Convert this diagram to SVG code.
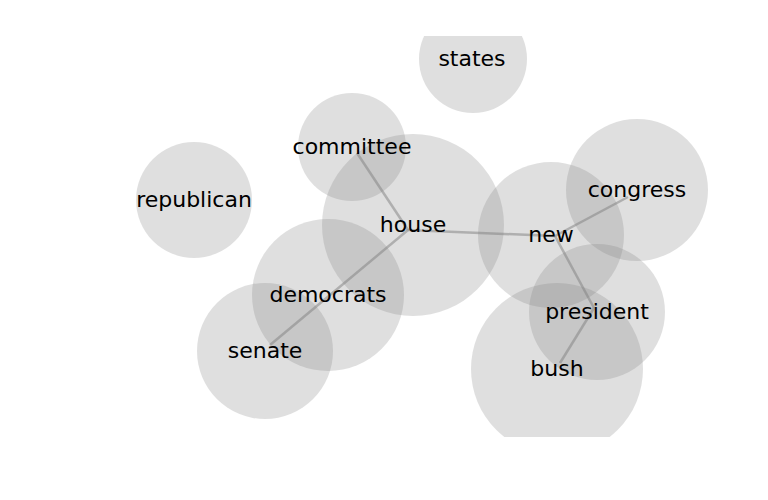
<svg xmlns="http://www.w3.org/2000/svg" width="768" height="500" viewBox="0 0 768 500">
<style>
.c{fill:#808080;fill-opacity:0.25}
.e{stroke:#808080;stroke-opacity:0.5;stroke-width:2.5;fill:none}
.t{font-family:"DejaVu Sans",sans-serif;font-size:22px;fill:#000;text-anchor:middle}
</style>
<defs>
<clipPath id="ax"><rect x="0" y="36" width="768" height="401"/></clipPath>
</defs>
<rect width="768" height="500" fill="#fff"/>
<g id="circles" clip-path="url(#ax)">
<circle class="c" cx="473" cy="59" r="54"/>
<circle class="c" cx="352" cy="147" r="54"/>
<circle class="c" cx="194" cy="200" r="58"/>
<circle class="c" cx="413" cy="225" r="91"/>
<circle class="c" cx="551" cy="235" r="73"/>
<circle class="c" cx="637" cy="190" r="71"/>
<circle class="c" cx="597" cy="312" r="68"/>
<circle class="c" cx="557" cy="369" r="86"/>
<circle class="c" cx="328" cy="295" r="76"/>
<circle class="c" cx="265" cy="351" r="68"/>
</g>
<g id="edges">
<line class="e" x1="357" y1="153" x2="408" y2="230"/>
<line class="e" x1="408" y1="230" x2="270" y2="345"/>
<line class="e" x1="408" y1="230" x2="555" y2="236"/>
<line class="e" x1="555" y1="236" x2="628" y2="197"/>
<line class="e" x1="555" y1="236" x2="594" y2="308"/>
<line class="e" x1="594" y1="308" x2="560" y2="363"/>
</g>
<g id="states"><text class="t" x="472" y="66">states</text></g>
<g id="committee"><text class="t" x="352" y="154">committee</text></g>
<g id="republican"><text class="t" x="194" y="207">republican</text></g>
<g id="house"><text class="t" x="413" y="232">house</text></g>
<g id="new"><text class="t" x="551" y="242">new</text></g>
<g id="congress"><text class="t" x="637" y="197">congress</text></g>
<g id="president"><text class="t" x="597" y="319">president</text></g>
<g id="bush"><text class="t" x="557" y="376">bush</text></g>
<g id="democrats"><text class="t" x="328" y="302">democrats</text></g>
<g id="senate"><text class="t" x="265" y="358">senate</text></g>
</svg>
